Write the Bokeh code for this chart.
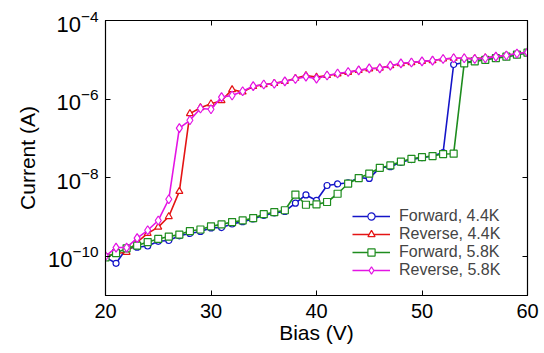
import numpy as np
from bokeh.plotting import figure
from bokeh.models import FixedTicker, LogAxis, LinearAxis, Legend, CustomJSTickFormatter, Range1d
from bokeh.embed import file_html
from bokeh.resources import INLINE

bias = list(range(20, 61))

fwd44_log = [-10.03, -10.18, -9.80, -9.77, -9.74, -9.62, -9.60, -9.48, -9.42, -9.37,
             -9.28, -9.27, -9.18, -9.12, -9.05, -8.96, -8.90, -8.86, -8.65, -8.44,
             -8.58, -8.20, -8.16, -8.13, -8.00, -8.02, -7.75, -7.72, -7.61, -7.54,
             -7.49, -7.45, -7.36, -5.12, -5.07, -5.03, -4.99, -4.95, -4.92, -4.87, -4.82]
rev44_log = [-10.00, -9.93, -9.90, -9.64, -9.42, -9.26, -8.99, -8.35, -6.37, -6.22,
             -6.12, -6.04, -5.76, -5.82, -5.68, -5.63, -5.60, -5.55, -5.47, -5.40,
             -5.44, -5.40, -5.36, -5.32, -5.27, -5.23, -5.21, -5.15, -5.10, -5.07,
             -5.04, -5.02, -4.98, -4.96, -4.96, -4.97, -4.95, -4.92, -4.89, -4.85, -4.81]
fwd58_log = [-10.03, -9.92, -9.80, -9.73, -9.64, -9.56, -9.50, -9.45, -9.36, -9.32,
             -9.24, -9.19, -9.13, -9.09, -9.03, -8.93, -8.88, -8.83, -8.43, -8.69,
             -8.68, -8.62, -8.41, -8.15, -8.01, -7.90, -7.75, -7.69, -7.59, -7.52,
             -7.48, -7.45, -7.40, -7.39, -5.09, -5.04, -5.00, -4.96, -4.92, -4.87, -4.82]
rev58_log = [-10.00, -9.78, -9.78, -9.54, -9.34, -9.09, -8.55, -6.74, -6.54, -6.24,
             -6.26, -5.95, -5.91, -5.80, -5.67, -5.63, -5.61, -5.55, -5.49, -5.43,
             -5.48, -5.40, -5.35, -5.31, -5.27, -5.22, -5.22, -5.15, -5.09, -5.07,
             -5.04, -5.02, -4.98, -4.96, -4.96, -4.98, -4.96, -4.92, -4.89, -4.84, -4.81]

labels = ["Forward, 4.4K", "Reverse, 4.4K", "Forward, 5.8K", "Reverse, 5.8K"]
x_ticks = [20, 30, 40, 50, 60]
y_ticks = [1e-10, 1e-8, 1e-6, 1e-4]

FONT = "Liberation Sans"

p = figure(frame_width=422, frame_height=275, output_backend="svg", toolbar_location=None,
           y_axis_type="log", x_range=Range1d(20, 60), y_range=Range1d(1e-11, 1e-4),
           min_border_left=105, min_border_top=20, min_border_right=16, min_border_bottom=57)
p.grid.visible = False
p.outline_line_color = "black"
p.outline_line_width = 1.2

series = [
    (fwd44_log, "#1414C8", "circle", 6, labels[0]),
    (rev44_log, "#E41414", "triangle", 7, labels[1]),
    (fwd58_log, "#1E8C1E", "square", 7, labels[2]),
    (rev58_log, "#E414E4", "diamond", 9, labels[3]),
]
items = []
for vals, col, mk, sz, lab in series:
    y = (10.0 ** np.array(vals)).tolist()
    r1 = p.line(bias, y, line_color=col, line_width=1.6)
    r2 = p.scatter(bias, y, marker=mk, size=sz, line_color=col, fill_color="white", line_width=1.2)
    items.append((lab, [r1, r2]))

legend = Legend(items=items, location=(247, 16), border_line_color=None,
                background_fill_alpha=0, padding=0, margin=0, spacing=0,
                glyph_width=38, glyph_height=18, label_height=18, label_standoff=9,
                label_text_font=FONT, label_text_font_size="16px")
p.add_layout(legend, "center")

for ax in [p.xaxis[0], p.yaxis[0]]:
    ax.major_tick_in = 5
    ax.major_tick_out = 0
    ax.minor_tick_in = 0
    ax.minor_tick_out = 0
    ax.axis_line_color = "black"
    ax.major_tick_line_color = "black"
    ax.major_label_text_font = FONT
    ax.major_label_text_color = "black"
    ax.axis_label_text_font = FONT
    ax.axis_label_text_font_style = "normal"
    ax.axis_label_text_color = "black"
    ax.axis_label_text_font_size = "21px"

p.xaxis[0].ticker = FixedTicker(ticks=x_ticks)
p.xaxis[0].major_label_text_font_size = "20px"
p.xaxis[0].major_label_standoff = 8
p.xaxis[0].axis_label = "Bias (V)"
p.xaxis[0].axis_label_standoff = 0

p.yaxis[0].ticker = FixedTicker(ticks=y_ticks)
p.yaxis[0].major_label_text_font_size = "22px"
p.yaxis[0].major_label_standoff = 7
p.yaxis[0].axis_label = "Current (A)"
p.yaxis[0].axis_label_standoff = 6

blank = CustomJSTickFormatter(code="return '';")
top = LinearAxis(ticker=FixedTicker(ticks=x_ticks), formatter=blank)
right = LogAxis(ticker=FixedTicker(ticks=y_ticks), formatter=blank)
for ax in [top, right]:
    ax.major_tick_in = 5
    ax.major_tick_out = 0
    ax.minor_tick_in = 0
    ax.minor_tick_out = 0
    ax.major_label_standoff = 0
    ax.major_label_text_font_size = "0px"
    ax.axis_line_color = "black"
p.add_layout(top, "above")
p.add_layout(right, "right")

open("out.html", "w").write(file_html(p, INLINE))
